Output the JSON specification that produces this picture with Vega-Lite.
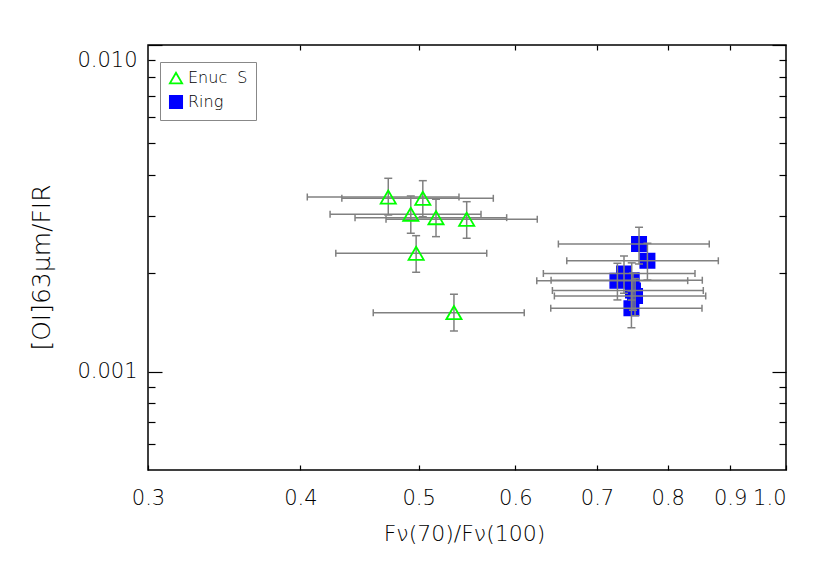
{
  "$schema": "https://vega.github.io/schema/vega-lite/v6.json",
  "width": 638,
  "height": 425,
  "autosize": {"type": "none"},
  "padding": {"left": 148, "top": 45, "right": 44, "bottom": 94},
  "background": "white",
  "config": {
    "view": {"stroke": "black", "strokeWidth": 1.5},
    "font": "DejaVu Sans",
    "axis": {
      "domain": false,
      "grid": false,
      "tickColor": "black",
      "tickWidth": 1.2,
      "labelFont": "DejaVu Sans",
      "labelFontSize": 21,
      "labelFontWeight": 300,
      "labelColor": "black",
      "titleFont": "DejaVu Sans",
      "titleFontWeight": 300,
      "titleColor": "black"
    }
  },
  "data": {
    "values": [
      {"group": "Enuc S", "x": 0.4721, "xlo": 0.4052, "xhi": 0.5395, "y": 0.003425, "ylo": 0.003017, "yhi": 0.003908},
      {"group": "Enuc S", "x": 0.5039, "xlo": 0.4325, "xhi": 0.5756, "y": 0.003394, "ylo": 0.002981, "yhi": 0.003843},
      {"group": "Enuc S", "x": 0.4926, "xlo": 0.4230, "xhi": 0.5624, "y": 0.003032, "ylo": 0.002653, "yhi": 0.003450},
      {"group": "Enuc S", "x": 0.5166, "xlo": 0.4434, "xhi": 0.5903, "y": 0.002961, "ylo": 0.002590, "yhi": 0.003371},
      {"group": "Enuc S", "x": 0.5474, "xlo": 0.4701, "xhi": 0.6254, "y": 0.002928, "ylo": 0.002561, "yhi": 0.003314},
      {"group": "Enuc S", "x": 0.4976, "xlo": 0.4276, "xhi": 0.5685, "y": 0.002304, "ylo": 0.002015, "yhi": 0.002608},
      {"group": "Enuc S", "x": 0.5344, "xlo": 0.4589, "xhi": 0.6102, "y": 0.001516, "ylo": 0.001332, "yhi": 0.001726},
      {"group": "Ring", "x": 0.7578, "xlo": 0.6508, "xhi": 0.8652, "y": 0.002459, "ylo": 0.002136, "yhi": 0.002767},
      {"group": "Ring", "x": 0.7699, "xlo": 0.6612, "xhi": 0.8801, "y": 0.002185, "ylo": 0.001908, "yhi": 0.002472},
      {"group": "Ring", "x": 0.7366, "xlo": 0.6326, "xhi": 0.8422, "y": 0.001998, "ylo": 0.001738, "yhi": 0.002260},
      {"group": "Ring", "x": 0.7275, "xlo": 0.6248, "xhi": 0.8307, "y": 0.001899, "ylo": 0.001658, "yhi": 0.002147},
      {"group": "Ring", "x": 0.7474, "xlo": 0.6419, "xhi": 0.8539, "y": 0.001905, "ylo": 0.001657, "yhi": 0.002153},
      {"group": "Ring", "x": 0.7492, "xlo": 0.6435, "xhi": 0.8555, "y": 0.001772, "ylo": 0.001542, "yhi": 0.002002},
      {"group": "Ring", "x": 0.7521, "xlo": 0.6459, "xhi": 0.8594, "y": 0.001705, "ylo": 0.001483, "yhi": 0.001927},
      {"group": "Ring", "x": 0.7470, "xlo": 0.6415, "xhi": 0.8534, "y": 0.001564, "ylo": 0.001363, "yhi": 0.001767}
    ]
  },
  "layer": [
    {
      "layer": [
        {
          "transform": [{"filter": "datum.group === 'Ring'"}],
          "mark": {"type": "point", "filled": true, "size": 210, "strokeWidth": 1.5, "opacity": 1},
          "encoding": {
            "x": {
              "field": "x", "type": "quantitative",
              "scale": {"type": "log", "domain": [0.3, 1.0], "nice": false, "zero": false},
              "axis": {
                "orient": "bottom",
                "values": [0.3, 0.4, 0.5, 0.6, 0.7, 0.8, 0.9, 1.0],
                "format": ".1f",
                "tickSize": -5,
                "labelPadding": 22,
                "labelAlign": {"condition": {"test": "datum.value >= 0.99", "value": "right"}, "value": "center"},
                "labelBaseline": "top",
                "title": "Fν(70)/Fν(100)",
                "titleFontSize": 22,
                "titleX": 316,
                "titleY": 63,
                "titleBaseline": "middle",
                "titleAnchor": "middle"
              }
            },
            "y": {
              "field": "y", "type": "quantitative",
              "scale": {"type": "log", "domain": [0.0005, 0.01], "nice": false, "zero": false},
              "axis": {
                "orient": "left",
                "values": [0.0006, 0.0007, 0.0008, 0.0009, 0.001, 0.002, 0.003, 0.004, 0.005, 0.006, 0.007, 0.008, 0.009, 0.01],
                "labelExpr": "datum.value == 0.001 || datum.value == 0.01 ? format(datum.value, '.3f') : ''",
                "tickSize": {"condition": {"test": "datum.value == 0.001 || datum.value == 0.01", "value": -14}, "value": -7},
                "labelPadding": 25,
                "labelBaseline": {"condition": {"test": "datum.value >= 0.0099", "value": "top"}, "value": "middle"},
                "labelOffset": {"condition": {"test": "datum.value >= 0.0099", "value": 4}, "value": 0},
                "title": "[OI]63μm/FIR",
                "titleFontSize": 25,
                "titleX": -107,
                "titleY": 222,
                "titleAngle": 270,
                "titleBaseline": "middle",
                "titleAlign": "center"
              }
            },
            "shape": {
              "field": "group", "type": "nominal",
              "scale": {"domain": ["Enuc S", "Ring"], "range": ["triangle-up", "square"]},
              "legend": {
                "title": null,
                "orient": "none",
                "legendX": 12,
                "legendY": 17,
                "direction": "vertical",
                "padding": 8,
                "strokeColor": "#888888",
                "fillColor": "white",
                "labelFont": "DejaVu Sans",
                "labelFontSize": 16,
                "labelFontWeight": 300,
                "labelColor": "black",
                "labelOffset": 4,
                "symbolSize": 150,
                "symbolStrokeWidth": 1.8,
                "rowPadding": 5,
                "labelExpr": "replace(datum.label, ' ', '\u00a0\u00a0')"
              }
            },
            "fill": {
              "field": "group", "type": "nominal",
              "scale": {"domain": ["Enuc S", "Ring"], "range": ["transparent", "#0000ff"]},
              "legend": {"title": null}
            },
            "stroke": {
              "field": "group", "type": "nominal",
              "scale": {"domain": ["Enuc S", "Ring"], "range": ["#00ff00", "#0000ff"]},
              "legend": {"title": null}
            }
          }
        },
        {
          "mark": {"type": "rule", "color": "#808080", "strokeWidth": 1.5},
          "encoding": {
            "x": {"field": "xlo", "type": "quantitative"},
            "x2": {"field": "xhi"},
            "y": {"field": "y", "type": "quantitative"}
          }
        },
        {
          "mark": {"type": "rule", "color": "#808080", "strokeWidth": 1.5},
          "encoding": {
            "x": {"field": "x", "type": "quantitative"},
            "y": {"field": "ylo", "type": "quantitative"},
            "y2": {"field": "yhi"}
          }
        },
        {
          "mark": {"type": "tick", "orient": "vertical", "color": "#808080", "size": 7, "thickness": 1.5, "opacity": 1},
          "encoding": {
            "x": {"field": "xlo", "type": "quantitative"},
            "y": {"field": "y", "type": "quantitative"}
          }
        },
        {
          "mark": {"type": "tick", "orient": "vertical", "color": "#808080", "size": 7, "thickness": 1.5, "opacity": 1},
          "encoding": {
            "x": {"field": "xhi", "type": "quantitative"},
            "y": {"field": "y", "type": "quantitative"}
          }
        },
        {
          "mark": {"type": "tick", "orient": "horizontal", "color": "#808080", "size": 8, "thickness": 1.5, "opacity": 1},
          "encoding": {
            "x": {"field": "x", "type": "quantitative"},
            "y": {"field": "ylo", "type": "quantitative"}
          }
        },
        {
          "mark": {"type": "tick", "orient": "horizontal", "color": "#808080", "size": 8, "thickness": 1.5, "opacity": 1},
          "encoding": {
            "x": {"field": "x", "type": "quantitative"},
            "y": {"field": "yhi", "type": "quantitative"}
          }
        },
        {
          "transform": [{"filter": "datum.group === 'Enuc S'"}],
          "mark": {"type": "point", "filled": true, "size": 230, "strokeWidth": 1.8, "opacity": 1},
          "encoding": {
            "x": {"field": "x", "type": "quantitative"},
            "y": {"field": "y", "type": "quantitative"},
            "shape": {"field": "group", "type": "nominal"},
            "fill": {"field": "group", "type": "nominal"},
            "stroke": {"field": "group", "type": "nominal"}
          }
        }
      ]
    },
    {
      "mark": {"type": "point", "opacity": 0},
      "encoding": {
        "x": {
          "field": "x", "type": "quantitative",
          "axis": {
            "orient": "top",
            "values": [0.4, 0.5, 0.6, 0.7, 0.8, 0.9],
            "labels": false,
            "tickSize": -5,
            "title": null
          }
        },
        "y": {
          "field": "y", "type": "quantitative",
          "axis": {
            "orient": "right",
            "values": [0.0006, 0.0007, 0.0008, 0.0009, 0.001, 0.002, 0.003, 0.004, 0.005, 0.006, 0.007, 0.008, 0.009, 0.01],
            "labels": false,
            "tickSize": {"condition": {"test": "datum.value == 0.001 || datum.value == 0.01", "value": -14}, "value": -7},
            "title": null
          }
        }
      }
    }
  ],
  "resolve": {"axis": {"x": "independent", "y": "independent"}}
}
